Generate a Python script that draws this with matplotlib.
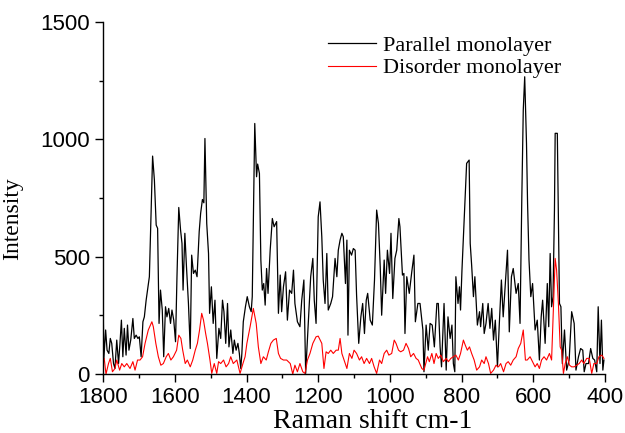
import matplotlib
matplotlib.use("Agg")
import matplotlib.pyplot as plt
from matplotlib.ticker import MultipleLocator

# Parallel monolayer (black)
par_shift = [1800, 1798, 1793, 1789, 1784, 1780, 1776, 1771, 1767, 1762, 1757, 1753, 1749, 1745, 1741,
             1736, 1732, 1728, 1723, 1717, 1713, 1708, 1703, 1699, 1694, 1689, 1685, 1680, 1675, 1671,
             1667, 1662, 1657, 1652, 1648, 1644, 1640, 1635, 1631, 1626, 1622, 1617, 1612, 1608, 1603,
             1598, 1594, 1589, 1584, 1580, 1577, 1572, 1568, 1562, 1557, 1553, 1548, 1543, 1538, 1532,
             1528, 1523, 1519, 1516, 1511, 1506, 1503, 1498, 1493, 1488, 1483, 1477, 1472, 1467, 1463,
             1458, 1453, 1449, 1444, 1438, 1434, 1429, 1424, 1420, 1416, 1413, 1409, 1403, 1398, 1392,
             1387, 1384, 1377, 1372, 1369, 1364, 1360, 1356, 1352, 1348, 1344, 1340, 1334, 1328, 1323,
             1316, 1311, 1306, 1302, 1297, 1291, 1286, 1280, 1274, 1269, 1265, 1258, 1251, 1246, 1240,
             1235, 1227, 1221, 1215, 1211, 1206, 1200, 1195, 1190, 1186, 1181, 1176, 1172, 1165, 1160,
             1153, 1148, 1144, 1139, 1134, 1130, 1124, 1120, 1117, 1113, 1107, 1102, 1097, 1093, 1087,
             1081, 1076, 1071, 1066, 1062, 1055, 1049, 1043, 1037, 1032, 1027, 1023, 1016, 1012, 1007,
             1001, 997, 992, 986, 981, 975, 972, 965, 961, 958, 953, 946, 939, 933, 929,
             922, 916, 908, 905, 899, 893, 888, 882, 876, 869, 865, 860, 856, 849, 843,
             838, 832, 827, 823, 819, 816, 810, 806, 803, 799, 795, 790, 786, 779, 776,
             772, 767, 763, 756, 750, 747, 741, 737, 732, 726, 721, 716, 711, 706, 700,
             695, 689, 684, 677, 672, 667, 661, 656, 648, 642, 637, 632, 628, 624, 619,
             616, 612, 607, 602, 595, 589, 583, 578, 574, 567, 561, 557, 553, 549, 545,
             541, 539, 533, 527, 523, 519, 513, 507, 500, 493, 486, 481, 474, 468, 462,
             458, 453, 446, 440, 434, 429, 423, 419, 414, 410, 406, 403]
par_int = [301, 67, 188, 102, 88, 152, 131, 45, 24, 145, 45, 131, 230, 74, 195,
           81, 209, 102, 145, 237, 152, 166, 152, 159, 74, 223, 244, 315, 372, 415,
           642, 929, 827, 635, 621, 216, 358, 273, 74, 287, 244, 280, 216, 273, 230,
           138, 415, 710, 614, 557, 358, 600, 472, 301, 109, 507, 429, 443, 415, 607,
           685, 744, 730, 1004, 642, 514, 259, 372, 216, 315, 67, 195, 152, 315, 266,
           131, 301, 116, 188, 88, 145, 102, 131, 88, 24, 88, 223, 287, 330, 287,
           266, 330, 1068, 841, 895, 855, 486, 358, 386, 294, 450, 344, 528, 663, 628,
           650, 259, 422, 266, 372, 436, 230, 358, 344, 443, 301, 223, 202, 315, 401,
           3, 237, 415, 493, 315, 216, 670, 734, 585, 401, 301, 514, 273, 301, 330,
           493, 415, 528, 571, 600, 585, 386, 571, 166, 528, 507, 535, 528, 337, 131,
           244, 301, 173, 315, 344, 230, 209, 401, 699, 642, 457, 251, 486, 344, 528,
           429, 600, 322, 493, 528, 663, 628, 422, 429, 173, 415, 344, 436, 507, 223,
           301, 301, 188, 10, 209, 102, 216, 209, 116, 301, 301, 116, 31, 301, 17,
           244, 152, 209, 45, 10, 415, 301, 372, 273, 443, 585, 756, 898, 912, 557,
           464, 330, 415, 209, 266, 202, 301, 173, 216, 301, 195, 280, 145, 230, 31,
           209, 401, 244, 408, 528, 180, 415, 450, 344, 386, 216, 756, 1125, 1267, 984,
           727, 486, 330, 386, 188, 230, 60, 244, 315, 131, 386, 202, 514, 287, 330,
           699, 1026, 1026, 301, 287, 45, 188, 17, 60, 266, 216, 17, 74, 109, 102,
           10, 45, 45, 109, 67, 60, 10, 287, 45, 230, 17, 60]

# Disorder monolayer (red)
dis_shift = [1800, 1797, 1792, 1785, 1780, 1774, 1767, 1762, 1754, 1748, 1741, 1734, 1725, 1717, 1711,
             1704, 1697, 1690, 1683, 1674, 1664, 1660, 1653, 1646, 1639, 1632, 1624, 1618, 1611, 1604,
             1595, 1589, 1583, 1578, 1571, 1565, 1557, 1550, 1543, 1537, 1531, 1525, 1520, 1514, 1509,
             1502, 1497, 1490, 1483, 1478, 1472, 1464, 1457, 1450, 1444, 1437, 1427, 1418, 1410, 1404,
             1399, 1390, 1381, 1373, 1367, 1360, 1353, 1345, 1339, 1332, 1325, 1317, 1311, 1305, 1297,
             1288, 1278, 1271, 1265, 1258, 1251, 1243, 1237, 1230, 1223, 1215, 1206, 1200, 1190, 1184,
             1178, 1172, 1165, 1158, 1150, 1144, 1139, 1134, 1128, 1120, 1113, 1106, 1100, 1093, 1085,
             1079, 1072, 1065, 1057, 1051, 1044, 1037, 1029, 1023, 1016, 1009, 1003, 995, 988, 983,
             976, 970, 962, 955, 948, 942, 934, 927, 921, 911, 905, 895, 890, 883, 877,
             871, 865, 858, 851, 843, 837, 830, 823, 816, 809, 803, 795, 790, 784, 778,
             772, 765, 758, 750, 744, 737, 732, 725, 719, 711, 704, 697, 691, 683, 676,
             670, 663, 656, 648, 642, 635, 628, 622, 617, 609, 602, 595, 589, 583, 577,
             570, 563, 555, 549, 544, 539, 535, 530, 525, 521, 516, 511, 505, 499, 493,
             486, 479, 472, 465, 459, 451, 444, 437, 431, 423, 417, 409, 403]
dis_int = [53, 67, 0, 45, 67, 10, 24, 60, 17, 45, 31, 45, 24, 53, 17,
           60, 60, 74, 131, 188, 223, 202, 131, 74, 38, 45, 74, 88, 60, 74,
           102, 166, 152, 102, 45, 60, 31, 60, 102, 131, 188, 259, 230, 173, 131,
           60, 3, 45, 3, 53, 45, 60, 31, 45, 74, 45, 60, 3, 45, 74,
           131, 202, 280, 216, 116, 45, 74, 60, 95, 131, 145, 152, 88, 67, 60,
           60, 45, 0, 38, 10, 45, 10, 3, 60, 88, 131, 159, 162, 131, 24,
           95, 88, 102, 88, 102, 102, 152, 88, 60, 24, 88, 67, 102, 88, 60,
           74, 45, 67, 45, 67, 31, 3, 60, 45, 88, 102, 81, 88, 145, 131,
           102, 95, 102, 131, 109, 74, 88, 67, 60, 24, 17, 74, 53, 88, 45,
           88, 67, 81, 53, 67, 53, 67, 74, 81, 60, 88, 145, 124, 102, 116,
           88, 60, 17, 31, 60, 45, 74, 45, 3, 17, 38, 31, 45, 10, 45,
           53, 38, 60, 74, 109, 131, 188, 60, 60, 74, 53, 31, 45, 24, 60,
           74, 60, 88, 60, 273, 493, 443, 301, 116, 102, 3, 45, 74, 38, 31,
           31, 38, 45, 60, 45, 67, 67, 3, 45, 45, 74, 81, 67]

x_ticks = [1800, 1600, 1400, 1200, 1000, 800, 600, 400]
y_ticks = [0, 500, 1000, 1500]

serif = ["Liberation Serif", "DejaVu Serif"]
sans = ["Liberation Sans", "DejaVu Sans"]

fig = plt.figure(figsize=(6.25, 4.33), dpi=100)
ax = fig.add_axes([0.165, 0.136, 0.803, 0.813])

ax.plot(par_shift, par_int, color="black", lw=0.9, label="Parallel monolayer")
ax.plot(dis_shift, dis_int, color="red", lw=0.8, label="Disorder monolayer")

ax.set_xlim(1800, 400)
ax.set_ylim(0, 1500)
ax.set_xticks(x_ticks)
ax.set_yticks(y_ticks)
ax.xaxis.set_minor_locator(MultipleLocator(100))
ax.yaxis.set_minor_locator(MultipleLocator(250))
ax.tick_params(which="major", direction="out", length=6, width=1, labelsize=16)
ax.tick_params(which="minor", direction="out", length=3, width=1)
for lab in ax.get_xticklabels() + ax.get_yticklabels():
    lab.set_family(sans)

for s in ["top", "right"]:
    ax.spines[s].set_visible(False)
for s in ["left", "bottom"]:
    ax.spines[s].set_linewidth(1)

ax.set_xlabel("Raman shift cm-1", family=serif, fontsize=20)
ax.set_ylabel("Intensity", family=serif, fontsize=17)
ax.xaxis.set_label_coords(0.538, -0.1)
ax.yaxis.set_label_coords(-0.16, 0.443)

leg = ax.legend(loc="upper left", bbox_to_anchor=(0.425, 0.995), frameon=False,
                prop={"family": serif, "size": 16}, handlelength=2.2,
                handletextpad=0.3, labelspacing=0.1, borderpad=0)

fig.savefig("out.png", dpi=100)
